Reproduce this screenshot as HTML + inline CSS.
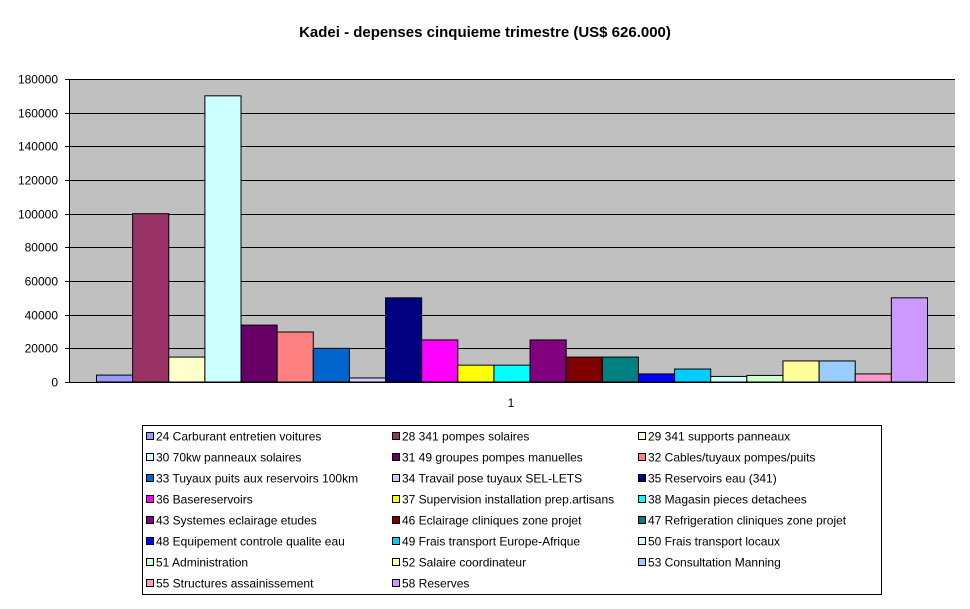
<!DOCTYPE html>
<html><head><meta charset="utf-8"><style>
body{margin:0;background:#fff;font-family:"Liberation Sans",Arial,sans-serif;}
svg text{font-family:"Liberation Sans",Arial,sans-serif;}
</style></head><body>
<svg id="chart" width="970" height="604" xmlns="http://www.w3.org/2000/svg">
<text x="485" y="37" text-anchor="middle" font-size="15" font-weight="bold">Kadei - depenses cinquieme trimestre (US$ 626.000)</text>
<rect x="69" y="79" width="886" height="303" fill="#c0c0c0"/>
<g id="grid"></g><g id="bars"></g><g id="axis"></g>
<text x="511" y="407" text-anchor="middle" font-size="12">1</text>
<rect x="142.5" y="425.5" width="739" height="169" fill="#fff" stroke="#000"/>
<g id="legend"></g>
</svg>
<script>
const categories=["24 Carburant entretien voitures","28 341 pompes solaires","29 341 supports panneaux","30 70kw panneaux solaires","31 49 groupes pompes manuelles","32 Cables/tuyaux pompes/puits","33 Tuyaux puits aux reservoirs 100km","34 Travail pose tuyaux SEL-LETS","35 Reservoirs eau (341)","36 Basereservoirs","37 Supervision installation prep.artisans","38 Magasin pieces detachees","43 Systemes eclairage etudes","46 Eclairage cliniques zone projet","47 Refrigeration cliniques zone projet","48 Equipement controle qualite eau","49 Frais transport Europe-Afrique","50 Frais transport locaux","51 Administration","52 Salaire coordinateur","53 Consultation Manning","55 Structures assainissement","58 Reserves"];
const values=[4100,100000,14800,170000,33800,29700,20000,2400,50000,25000,10000,10000,25000,14800,14800,4800,7700,3300,3900,12500,12500,4800,50000];
const colors=["#9999ff","#993366","#ffffcc","#ccffff","#660066","#ff8080","#0066cc","#ccccff","#000080","#ff00ff","#ffff00","#00ffff","#800080","#800000","#008080","#0000ff","#00ccff","#ccffff","#ccffcc","#ffff99","#99ccff","#ff99cc","#cc99ff"];
const yTicks=[0,20000,40000,60000,80000,100000,120000,140000,160000,180000];
const NS="http://www.w3.org/2000/svg";
const x0=69,x1=955,y0=382,y1=79,yMax=180000;
const ys=v=>y0-(v/yMax)*(y0-y1);
const bw=(927-96)/values.length, bx=i=>96+i*bw;
const mk=(t,a,p)=>{const e=document.createElementNS(NS,t);for(const k in a)e.setAttribute(k,a[k]);document.getElementById(p).appendChild(e);return e;};
yTicks.forEach(v=>{
 const y=Math.round(ys(v))+0.5;
 if(v>0){const l=mk('line',{x1:x0,x2:x1,y1:y,y2:y,stroke:'#000','stroke-width':1},'grid');
 
 }
 const tk=mk('line',{x1:x0-4,x2:x0,y1:y,y2:y,stroke:'#000'},'axis');
 
 
 const t=mk('text',{x:58,y:y+4,'text-anchor':'end','font-size':12},'axis');
 t.textContent=v;
 
 
});
const ax=mk('line',{x1:x0+0.5,x2:x0+0.5,y1:y1,y2:y0,stroke:'#000'},'axis');


const bx0=mk('line',{x1:x0,x2:x1,y1:y0+0.5,y2:y0+0.5,stroke:'#000'},'axis');


values.forEach((v,i)=>{
 const r=mk('rect',{x:bx(i)+0.5,y:ys(v),width:bw,height:y0-ys(v),fill:colors[i],stroke:'#000','stroke-width':1},'bars');
 
 
});
categories.forEach((c,i)=>{
 const col=i%3,row=Math.floor(i/3);
 const lx=[146,392,638][col],ly=436+row*21;
 const s=mk('rect',{x:lx+0.5,y:ly-3.5,width:7,height:7,fill:colors[i],stroke:'#000','stroke-width':1},'legend');
 
 
 const t=mk('text',{x:lx+10,y:ly+4.5,'font-size':12},'legend');
 t.textContent=c;
 
 
});
</script>
</body></html>
